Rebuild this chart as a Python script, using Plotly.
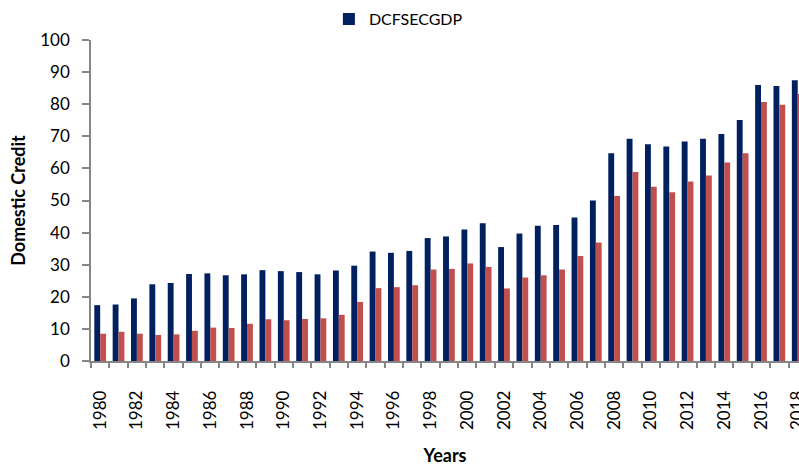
import plotly.graph_objects as go

years = list(range(1980, 2019))
dcfsecgdp = [17.4, 17.6, 19.5, 23.9, 24.3, 27.1, 27.3, 26.7, 27.0, 28.3,
             28.0, 27.7, 27.0, 28.2, 29.7, 34.1, 33.7, 34.3, 38.3, 38.8,
             41.0, 42.9, 35.5, 39.7, 42.1, 42.4, 44.7, 50.0, 64.7, 69.2,
             67.5, 66.8, 68.4, 69.2, 70.7, 75.1, 86.0, 85.7, 87.5]
second_series = [8.5, 9.1, 8.5, 8.1, 8.3, 9.4, 10.4, 10.3, 11.6, 13.0,
                 12.7, 13.1, 13.3, 14.4, 18.4, 22.7, 23.0, 23.6, 28.5, 28.7,
                 30.4, 29.3, 22.6, 26.0, 26.7, 28.5, 32.7, 36.9, 51.4, 58.9,
                 54.3, 52.6, 55.9, 57.8, 61.8, 64.7, 80.7, 79.8, 83.2]
label_years = list(range(1980, 2019, 2))

FONT = "Lato"
AXIS_GRAY = "#868686"

fig = go.Figure()
fig.add_trace(go.Bar(x=years, y=dcfsecgdp, name="DCFSECGDP",
                     marker=dict(color="#002060", line=dict(width=0))))
fig.add_trace(go.Bar(x=years, y=second_series, name="Series 2", showlegend=False,
                     marker=dict(color="#C0504D", line=dict(width=0))))

fig.update_layout(
    width=799, height=466,
    margin=dict(l=91, r=0, t=40, b=105, autoexpand=False),
    paper_bgcolor="white", plot_bgcolor="white",
    barmode="group", bargap=0.36, bargroupgap=0,
    font=dict(family=FONT, size=17, color="#000000"),
    legend=dict(orientation="h", x=0.336, xanchor="left", y=1.065, yanchor="middle",
                font=dict(family=FONT, size=16), bgcolor="rgba(0,0,0,0)"),
    xaxis=dict(
        range=[1979.5, 2018.07],
        tickmode="array", tickvals=label_years, ticktext=[str(y) for y in label_years],
        tickangle=-90, ticks="", ticklabelstandoff=21, ticklabeloverflow="allow",
        showline=True, linecolor=AXIS_GRAY, linewidth=1.5,
        showgrid=False, zeroline=False,
        tickfont=dict(family=FONT, size=17),
        minor=dict(ticks="outside", ticklen=5, tickcolor=AXIS_GRAY, tickwidth=1.5,
                   tick0=1979.5, dtick=1, showgrid=False),
        title=dict(text="<b>Years</b>", font=dict(family=FONT, size=18), standoff=26),
    ),
    yaxis=dict(
        range=[0, 100], dtick=10, ticks="outside", ticklen=7, tickwidth=1.5,
        tickcolor=AXIS_GRAY, ticklabelstandoff=9,
        showline=True, linecolor=AXIS_GRAY, linewidth=1.5,
        showgrid=False, zeroline=False,
        tickfont=dict(family=FONT, size=17),
        title=dict(text="<b>Domestic Credit</b>", font=dict(family=FONT, size=18), standoff=10),
    ),
)

fig.write_html("out.html",
               config={"displayModeBar": False},
               post_script="document.body.style.margin='0';document.body.style.padding='0';")
